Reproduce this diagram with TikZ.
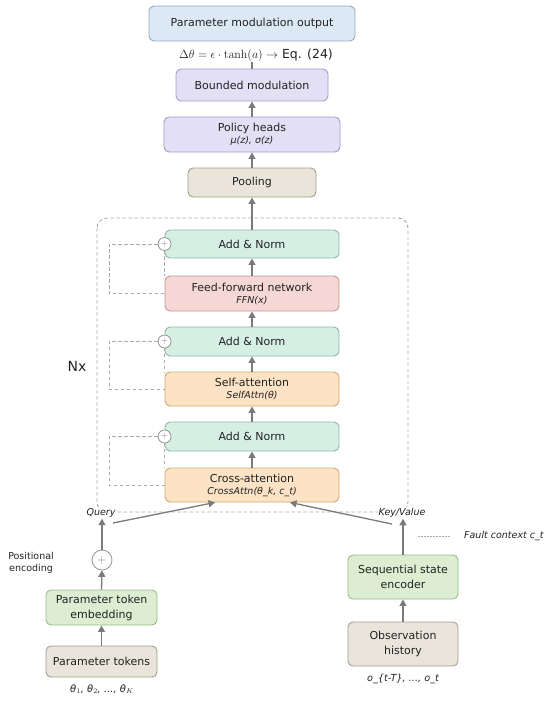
\documentclass[tikz,border=0pt]{standalone}
\usepackage[no-math]{fontspec}
\setmainfont{DejaVu Sans}
\usetikzlibrary{calc,arrows.meta}
\definecolor{txt}{HTML}{222222}
\definecolor{arrg}{HTML}{7A7A7A}
\definecolor{dashg}{HTML}{AAAAAA}
\definecolor{blueF}{HTML}{DCE9F5}\definecolor{blueD}{HTML}{8EAAC4}
\definecolor{lavF}{HTML}{E3E0F6}\definecolor{lavD}{HTML}{A09BC6}
\definecolor{begF}{HTML}{EAE5DA}\definecolor{begD}{HTML}{A39D8C}
\definecolor{mintF}{HTML}{D6EFE5}\definecolor{mintD}{HTML}{8DB5A4}
\definecolor{pinkF}{HTML}{F5D8D6}\definecolor{pinkD}{HTML}{C9938F}
\definecolor{peachF}{HTML}{FCE3C5}\definecolor{peachD}{HTML}{D2A872}
\definecolor{grnF}{HTML}{DCEDD2}\definecolor{grnD}{HTML}{97BC85}
\newcommand\subtxt{\fontsize{9.5}{11}\selectfont\itshape}
\begin{document}
\begin{tikzpicture}[x=1pt,y=-1pt,
  blk/.style={rounded corners=5pt, line width=0.9pt, align=center, inner sep=0pt, text=txt,
    font=\fontsize{11}{15}\selectfont},
  sub/.style={font=\subtxt},
  arr/.style={-{Triangle[length=6.5pt,width=7pt]}, draw=arrg, line width=1.3pt},
  ln/.style={draw=arrg, line width=1.3pt},
  dsh/.style={draw=dashg, line width=0.9pt, dash pattern=on 3.5pt off 2.5pt},
  plus/.style={circle, draw=arrg!80, fill=white, line width=0.8pt, inner sep=0pt, text=arrg},
  lbl/.style={text=txt, inner sep=1pt}]
\useasboundingbox (0,0) rectangle (550,702);
% Nx box
\draw[dsh, rounded corners=10pt] (97,218) rectangle (408,512);
% top part
\node[blk, fill=blueF, draw=blueD, minimum width=206pt, minimum height=35pt] (out) at (252,23.5) {Parameter modulation output};
\node[lbl, font=\fontsize{12.5}{14}\selectfont] (eq) at (256,55) {$\Delta\theta = \epsilon\cdot\tanh(a) \rightarrow$ Eq. (24)};
\node[blk, fill=lavF, draw=lavD, minimum width=152pt, minimum height=32pt] (bnd) at (252,85) {Bounded modulation};
\node[blk, fill=lavF, draw=lavD, minimum width=176pt, minimum height=35pt] (pol) at (252,134.5) {Policy heads\\[-3pt]{\subtxt μ(z), σ(z)}};
\node[blk, fill=begF, draw=begD, minimum width=128pt, minimum height=29pt] (pool) at (252,182.5) {Pooling};
% encoder stack
\node[blk, fill=mintF, draw=mintD, minimum width=174pt, minimum height=28pt] (an1) at (252,244) {Add \& Norm};
\node[blk, fill=pinkF, draw=pinkD, minimum width=174pt, minimum height=35pt] (ffn) at (252,293.5) {Feed-forward network\\[-3pt]{\subtxt FFN(x)}};
\node[blk, fill=mintF, draw=mintD, minimum width=174pt, minimum height=29pt] (an2) at (252,341.5) {Add \& Norm};
\node[blk, fill=peachF, draw=peachD, minimum width=174pt, minimum height=34pt] (sa) at (252,389) {Self-attention\\[-3pt]{\subtxt SelfAttn(θ)}};
\node[blk, fill=mintF, draw=mintD, minimum width=174pt, minimum height=29pt] (an3) at (252,436.5) {Add \& Norm};
\node[blk, fill=peachF, draw=peachD, minimum width=174pt, minimum height=34pt] (ca) at (252,485) {Cross-attention\\[-3pt]{\subtxt CrossAttn(θ\_k, c\_t)}};
\node[font=\fontsize{14}{16}\selectfont, text=txt] (nx) at (77,366) {Nx};
% residual connections
\foreach \a/\b [count=\i] in {an1/ffn, an2/sa, an3/ca}{
  \draw[dsh] ($(\a.west)+(-7,0)$) -- (109,0 |- \a.west) -- (109,0 |- \b.west) -- (\b.west);
  \draw[dsh] (\a.west) -- (\a.west |- \b.north);
  \node[plus, minimum size=13pt, font=\fontsize{9}{9}\selectfont] (p\i) at (\a.west) {$+$};
}
% vertical arrows
\draw[ln] (bnd.north) -- (bnd.north |- eq.south);
\draw[arr] (pol.north) -- (bnd.south);
\draw[arr] (pool.north) -- (pol.south);
\draw[arr] (an1.north) -- (pool.south);
\draw[arr] (ffn.north) -- (an1.south);
\draw[arr] (an2.north) -- (ffn.south);
\draw[arr] (sa.north) -- (an2.south);
\draw[arr] (an3.north) -- (sa.south);
\draw[arr] (ca.north) -- (an3.south);
% labels on Nx bottom
\node[lbl, fill=white, sub, text=txt] (q) at (101,513) {Query};
\node[lbl, fill=white, sub, text=txt] (kv) at (402,513) {Key/Value};
\coordinate (qs) at (113,523);
\coordinate (kvs) at (392,524);
\draw[arr] (qs) -- (ca.south -| 215,0);
\draw[arr] (kvs) -- (ca.south -| 290,0);
% left input branch
\node[plus, minimum size=20pt, font=\fontsize{12}{12}\selectfont] (pe) at (102,560) {$+$};
\node[text=txt, align=center, font=\fontsize{9.5}{12}\selectfont] (pos) at (31,563) {Positional\\encoding};
\node[blk, fill=grnF, draw=grnD, minimum width=111pt, minimum height=35pt] (pte) at (101.5,607.5) {Parameter token\\embedding};
\node[blk, fill=begF, draw=begD, minimum width=111pt, minimum height=31pt] (pt) at (101.5,661.5) {Parameter tokens};
\node[text=txt, font=\fontsize{10}{11}\itshape] (th) at (102,689) {θ$_1$, θ$_2$, ..., θ$_K$};
\draw[arr] (pt.north) -- (pte.south);
\draw[arr] (pte.north) -- (pe.south);
\draw[arr] (pe.north) -- (q.south -| pe.north);
% right input branch
\node[blk, fill=grnF, draw=grnD, minimum width=110pt, minimum height=44pt] (sse) at (403,577) {Sequential state\\encoder};
\node[blk, fill=begF, draw=begD, minimum width=110pt, minimum height=44pt] (obs) at (403,644) {Observation\\history};
\node[text=txt, font=\fontsize{9.7}{11}\itshape] (ot) at (403,679) {o\_\{t-T\}, ..., o\_t};
\draw[arr] (obs.north) -- (sse.south);
\draw[arr] (sse.north) -- (kv.south -| sse.north);
\node[text=txt, sub, anchor=west, inner sep=0pt] (fc) at (464,536) {Fault context c\_t};
\coordinate (fcl) at (418,536);
\draw[draw=dashg, line width=0.8pt, dash pattern=on 1.5pt off 1.5pt] (fcl) -- (fc.west -| 450,0);
\end{tikzpicture}
\end{document}
